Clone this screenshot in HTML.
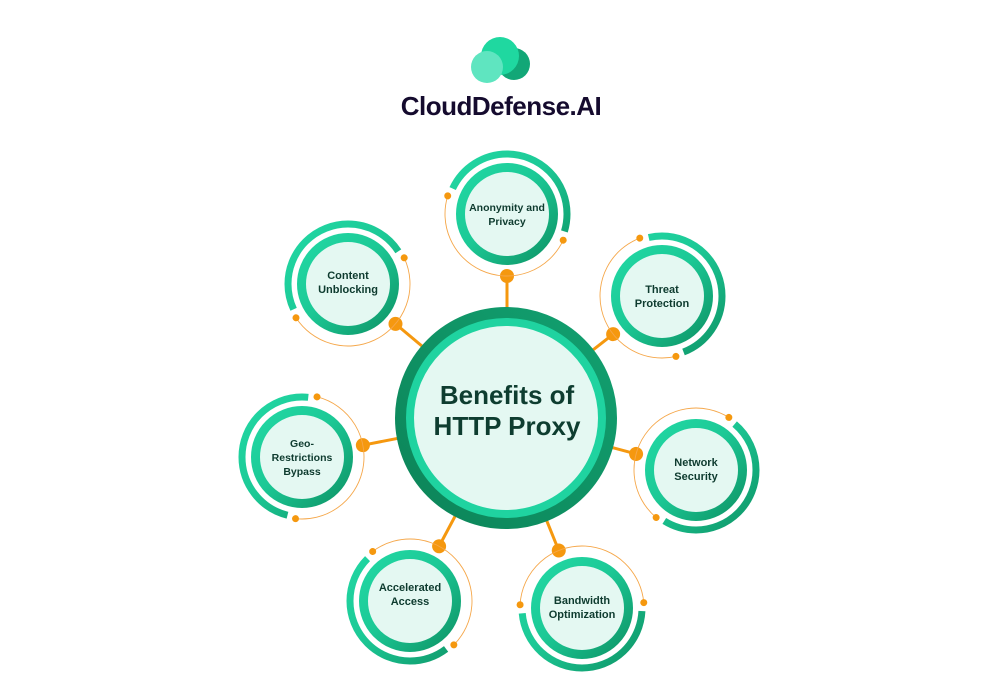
<!DOCTYPE html>
<html><head><meta charset="utf-8"><style>
html,body{margin:0;padding:0;background:#fff;}
svg{display:block;}
text{font-family:"Liberation Sans",sans-serif;font-weight:bold;fill:#0e3b2f;text-anchor:middle;}
</style></head><body>
<svg width="1000" height="697" viewBox="0 0 1000 697" xmlns="http://www.w3.org/2000/svg">
<defs>
<linearGradient id="g" x1="0" y1="0" x2="1" y2="1">
<stop offset="0" stop-color="#22d8a4"/><stop offset="0.45" stop-color="#1cc996"/><stop offset="1" stop-color="#0e9466"/>
</linearGradient>
<linearGradient id="gc" x1="1" y1="0" x2="0" y2="1">
<stop offset="0" stop-color="#12a070"/><stop offset="1" stop-color="#0c8458"/>
</linearGradient>
</defs>

<!-- logo -->
<circle cx="514" cy="64" r="16" fill="#12a777"/>
<circle cx="500" cy="56" r="19" fill="#1fd8a0"/>
<circle cx="487" cy="67" r="16" fill="#5fe5c0"/>
<text x="501" y="115" style="font-size:26px;fill:#150b2e;letter-spacing:-0.5px">CloudDefense.AI</text>

<!-- Anonymity -->
<g transform="translate(507,214)">
<g transform="rotate(90)"><line x1="62" y1="0" x2="204" y2="0" stroke="#f5980f" stroke-width="3"/><circle cx="62" r="7" fill="#f5980f"/></g>
<circle r="60" fill="none" stroke="url(#g)" stroke-width="7" stroke-dasharray="180 197" stroke-dashoffset="162.3"/>
<circle r="62" fill="none" stroke="#f5a74a" stroke-width="0.9" stroke-dasharray="186 400" transform="rotate(25)"/>
<circle cx="62" r="3.5" fill="#f5980f" transform="rotate(25)"/><circle cx="62" r="3.5" fill="#f5980f" transform="rotate(197)"/>
<circle r="46.5" fill="#e4f8f2" stroke="url(#g)" stroke-width="9"/>
<text y="-3" font-size="10.5">Anonymity and</text><text y="11" font-size="10.5">Privacy</text>
</g>

<!-- Content -->
<g transform="translate(348,284)">
<g transform="rotate(40)"><line x1="62" y1="0" x2="208" y2="0" stroke="#f5980f" stroke-width="3"/><circle cx="62" r="7" fill="#f5980f"/></g>
<circle r="60" fill="none" stroke="url(#g)" stroke-width="7" stroke-dasharray="180 197" stroke-dashoffset="214.7"/>
<circle r="62" fill="none" stroke="#f5a74a" stroke-width="0.9" stroke-dasharray="186 400" transform="rotate(335)"/>
<circle cx="62" r="3.5" fill="#f5980f" transform="rotate(335)"/><circle cx="62" r="3.5" fill="#f5980f" transform="rotate(147)"/>
<circle r="46.5" fill="#e4f8f2" stroke="url(#g)" stroke-width="9"/>
<text y="-5" font-size="11">Content</text><text y="9" font-size="11">Unblocking</text>
</g>

<!-- Threat -->
<g transform="translate(662,296)">
<g transform="rotate(142)"><line x1="62" y1="0" x2="197" y2="0" stroke="#f5980f" stroke-width="3"/><circle cx="62" r="7" fill="#f5980f"/></g>
<circle r="60" fill="none" stroke="url(#g)" stroke-width="7" stroke-dasharray="180 197" stroke-dashoffset="107.8"/>
<circle r="62" fill="none" stroke="#f5a74a" stroke-width="0.9" stroke-dasharray="186 400" transform="rotate(77)"/>
<circle cx="62" r="3.5" fill="#f5980f" transform="rotate(77)"/><circle cx="62" r="3.5" fill="#f5980f" transform="rotate(249)"/>
<circle r="46.5" fill="#e4f8f2" stroke="url(#g)" stroke-width="9"/>
<text y="-3" font-size="11">Threat</text><text y="11" font-size="11">Protection</text>
</g>

<!-- Geo -->
<g transform="translate(302,457)">
<g transform="rotate(-11)"><line x1="62" y1="0" x2="208" y2="0" stroke="#f5980f" stroke-width="3"/><circle cx="62" r="7" fill="#f5980f"/></g>
<circle r="60" fill="none" stroke="url(#g)" stroke-width="7" stroke-dasharray="180 197" stroke-dashoffset="268.1"/>
<circle r="62" fill="none" stroke="#f5a74a" stroke-width="0.9" stroke-dasharray="186 400" transform="rotate(284)"/>
<circle cx="62" r="3.5" fill="#f5980f" transform="rotate(284)"/><circle cx="62" r="3.5" fill="#f5980f" transform="rotate(96)"/>
<circle r="46.5" fill="#e4f8f2" stroke="url(#g)" stroke-width="9"/>
<text y="-10" font-size="10.5">Geo-</text><text y="4" font-size="10.5">Restrictions</text><text y="18" font-size="10.5">Bypass</text>
</g>

<!-- Network -->
<g transform="translate(696,470)">
<g transform="rotate(195)"><line x1="62" y1="0" x2="197" y2="0" stroke="#f5980f" stroke-width="3"/><circle cx="62" r="7" fill="#f5980f"/></g>
<circle r="60" fill="none" stroke="url(#g)" stroke-width="7" stroke-dasharray="180 197" stroke-dashoffset="52.4"/>
<circle r="62" fill="none" stroke="#f5a74a" stroke-width="0.9" stroke-dasharray="186 400" transform="rotate(130)"/>
<circle cx="62" r="3.5" fill="#f5980f" transform="rotate(130)"/><circle cx="62" r="3.5" fill="#f5980f" transform="rotate(302)"/>
<circle r="46.5" fill="#e4f8f2" stroke="url(#g)" stroke-width="9"/>
<text y="-4" font-size="11">Network</text><text y="10" font-size="11">Security</text>
</g>

<!-- Accelerated -->
<g transform="translate(410,601)">
<g transform="rotate(-62)"><line x1="62" y1="0" x2="207" y2="0" stroke="#f5980f" stroke-width="3"/><circle cx="62" r="7" fill="#f5980f"/></g>
<circle r="60" fill="none" stroke="url(#g)" stroke-width="7" stroke-dasharray="180 197" stroke-dashoffset="321.5"/>
<circle r="62" fill="none" stroke="#f5a74a" stroke-width="0.9" stroke-dasharray="186 400" transform="rotate(233)"/>
<circle cx="62" r="3.5" fill="#f5980f" transform="rotate(233)"/><circle cx="62" r="3.5" fill="#f5980f" transform="rotate(45)"/>
<circle r="46.5" fill="#e4f8f2" stroke="url(#g)" stroke-width="9"/>
<text y="-10" font-size="11">Accelerated</text><text y="4" font-size="11">Access</text>
</g>

<!-- Bandwidth -->
<g transform="translate(582,608)">
<g transform="rotate(-112)"><line x1="62" y1="0" x2="205" y2="0" stroke="#f5980f" stroke-width="3"/><circle cx="62" r="7" fill="#f5980f"/></g>
<circle r="60" fill="none" stroke="url(#g)" stroke-width="7" stroke-dasharray="180 197" stroke-dashoffset="373.9"/>
<circle r="62" fill="none" stroke="#f5a74a" stroke-width="0.9" stroke-dasharray="186 400" transform="rotate(183)"/>
<circle cx="62" r="3.5" fill="#f5980f" transform="rotate(183)"/><circle cx="62" r="3.5" fill="#f5980f" transform="rotate(355)"/>
<circle r="46.5" fill="#e4f8f2" stroke="url(#g)" stroke-width="9"/>
<text y="-4" font-size="11">Bandwidth</text><text y="10" font-size="11">Optimization</text>
</g>

<!-- center -->
<circle cx="506" cy="418" r="105.5" fill="url(#gc)" stroke="url(#gc)" stroke-width="11"/>
<circle cx="506" cy="418" r="96" fill="#e4f8f2" stroke="#1fd3a0" stroke-width="8"/>
<text x="507" y="404" font-size="26" style="fill:#0e3d30">Benefits of</text>
<text x="507" y="435" font-size="26" style="fill:#0e3d30">HTTP Proxy</text>
</svg>
</body></html>
